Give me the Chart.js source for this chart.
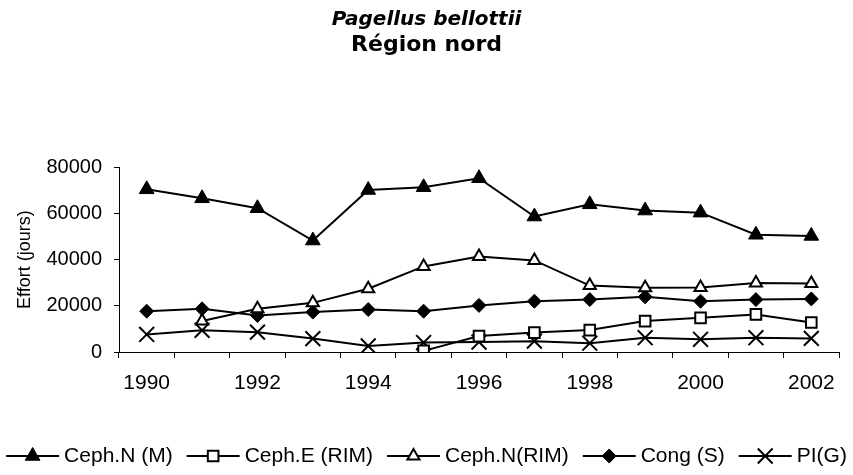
<!DOCTYPE html>
<html>
<head>
<meta charset="utf-8">
<script src="https://cdn.jsdelivr.net/npm/chart.js@4/dist/chart.umd.min.js"></script>
<style>
  html, body { margin: 0; padding: 0; background: #fff; }
  #wrap { width: 853px; height: 475px; }
</style>
</head>
<body>
<div id="wrap"><canvas id="chart" width="853" height="475"></canvas></div>
<script>
// donnees
const years = ['1990', '1991', '1992', '1993', '1994', '1995', '1996', '1997', '1998', '1999', '2000', '2001', '2002'];
const cephNM   = [70500, 66600, 62300, 48300, 70200, 71400, 75300, 58700, 64000, 61300, 60400, 50800, 50300];
const cephERIM = [null, null, null, null, null, 500, 6900, 8400, 9500, 13400, 14800, 16300, 12800];
const cephNRIM = [null, 13400, 18700, 21300, 27400, 37100, 41400, 39700, 28800, 27800, 27900, 29900, 29700];
const congS    = [17700, 18700, 15800, 17300, 18400, 17700, 20200, 22000, 22700, 23900, 22000, 22700, 23000];
const piG      = [7600, 9400, 8600, 5800, 2600, 4100, 4300, 4700, 3800, 6200, 5500, 6200, 5900];
const yTicks   = [0, 20000, 40000, 60000, 80000];

const ARIAL = '"Liberation Sans", Arial, sans-serif';

function serie(label, data, style, radius, fill, bw) {
  return {
    label: label,
    data: data,
    borderColor: '#000',
    borderWidth: 2,
    fill: false,
    tension: 0,
    pointStyle: style,
    pointRadius: radius,
    pointHoverRadius: radius,
    pointBackgroundColor: fill,
    pointBorderColor: '#000',
    pointBorderWidth: bw,
    pointHoverBorderWidth: bw
  };
}

// legende en bas : trait + marqueur + texte, comme Excel
const bottomLegend = {
  id: 'bottomLegend',
  afterDraw(chart) {
    const ctx = chart.ctx;
    const y = 456;
    const lineLen = 53, textGap = 5, itemGap = 14;
    ctx.save();
    ctx.font = '21px ' + ARIAL;
    const items = chart.data.datasets.map(ds => ({ ds: ds, w: lineLen + textGap + ctx.measureText(ds.label).width }));
    const total = items.reduce((s, it) => s + it.w, 0) + itemGap * (items.length - 1);
    let x = (chart.width - total) / 2;
    items.forEach(it => {
      const ds = it.ds;
      ctx.strokeStyle = '#000';
      ctx.lineWidth = 2;
      ctx.beginPath();
      ctx.moveTo(x, y);
      ctx.lineTo(x + lineLen, y);
      ctx.stroke();
      ctx.fillStyle = ds.pointBackgroundColor;
      ctx.strokeStyle = ds.pointBorderColor;
      ctx.lineWidth = ds.pointBorderWidth;
      Chart.helpers.drawPoint(ctx, {
        pointStyle: ds.pointStyle, radius: ds.pointRadius, rotation: 0, borderWidth: ds.pointBorderWidth
      }, x + lineLen / 2, y);
      ctx.fillStyle = '#000';
      ctx.textAlign = 'left';
      ctx.textBaseline = 'middle';
      ctx.fillText(ds.label, x + lineLen + textGap, y);
      x += it.w + itemGap;
    });
    ctx.restore();
  }
};

new Chart(document.getElementById('chart'), {
  type: 'line',
  data: {
    labels: years,
    datasets: [
      serie('Ceph.N (M)', cephNM, 'triangle', 8.5, '#000', 1),
      serie('Ceph.E (RIM)', cephERIM, 'rect', 7.5, '#fff', 2),
      serie('Ceph.N(RIM)', cephNRIM, 'triangle', 7, '#fff', 2),
      serie('Cong (S)', congS, 'rectRot', 7, '#000', 1),
      serie('PI(G)', piG, 'crossRot', 10.5, '#000', 2)
    ]
  },
  options: {
    responsive: false,
    animation: false,
    devicePixelRatio: 1,
    layout: { padding: { left: 14, right: 14, top: 0, bottom: 73 } },
    scales: {
      x: {
        type: 'category',
        offset: true,
        grid: { offset: true, drawOnChartArea: false, drawTicks: true, tickLength: 6, color: '#000' },
        border: { color: '#000', width: 1 },
        ticks: {
          autoSkip: false,
          maxRotation: 0,
          padding: 13,
          color: '#000',
          font: { family: ARIAL, size: 21 },
          callback: function (val, i) { return i % 2 === 0 ? this.getLabelForValue(val) : ''; }
        },
        afterFit: s => { s.height = 50; }
      },
      y: {
        min: 0,
        max: 80000,
        afterBuildTicks: s => { s.ticks = yTicks.map(v => ({ value: v })); },
        grid: { drawOnChartArea: false, drawTicks: true, tickLength: 5, color: '#000' },
        border: { color: '#000', width: 1 },
        ticks: {
          padding: 12,
          color: '#000',
          font: { family: ARIAL, size: 20 },
          callback: v => String(v)
        },
        title: {
          display: true,
          text: 'Effort (jours)',
          color: '#000',
          font: { family: ARIAL, size: 18 },
          padding: { top: 0, bottom: 0 }
        },
        afterFit: s => { s.width = 105; }
      }
    },
    plugins: {
      legend: { display: false },
      tooltip: { enabled: false },
      title: {
        display: true,
        text: 'Pagellus bellottii',
        color: '#000',
        font: { family: 'DejaVu Sans', size: 20, weight: 'bold', style: 'italic' },
        padding: { top: 8, bottom: 0 }
      },
      subtitle: {
        display: true,
        text: 'Région nord',
        color: '#000',
        font: { family: 'DejaVu Sans', size: 22, weight: 'bold' },
        padding: { top: 0, bottom: 109 }
      }
    }
  },
  plugins: [bottomLegend]
});
</script>
</body>
</html>
